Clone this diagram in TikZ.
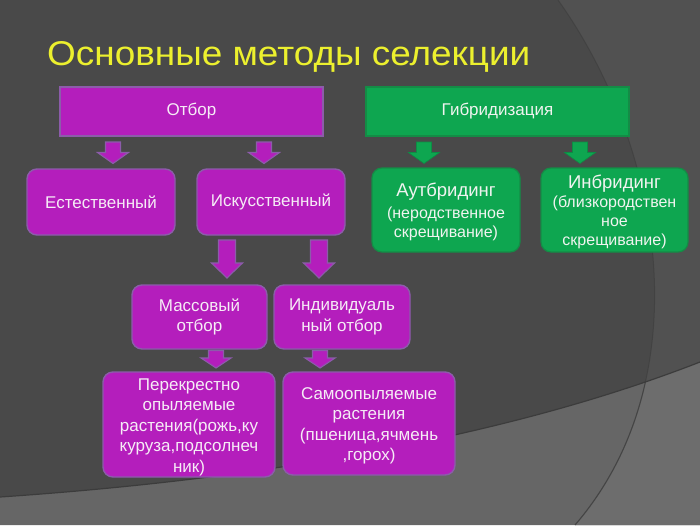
\documentclass[tikz,border=0pt]{standalone}
\usepackage{fontspec}
\setmainfont{Liberation Sans}
\usetikzlibrary{calc}
\definecolor{bgdark}{RGB}{73,73,73}
\definecolor{bgright}{RGB}{81,81,81}
\definecolor{bgband}{RGB}{102,102,102}
\definecolor{bgline}{RGB}{60,60,60}
\definecolor{titleyellow}{RGB}{236,240,46}
\definecolor{pfill}{RGB}{180,30,188}
\definecolor{pborder}{RGB}{140,92,170}
\definecolor{ptext}{RGB}{246,236,246}
\definecolor{gfill}{RGB}{14,166,80}
\definecolor{gborder}{RGB}{20,140,70}
\definecolor{gtext}{RGB}{240,244,240}
\newcommand\blockarrow[6]{% start, tip, half shaft, half head, head length, style
  \path[#6] let \p1=(#1), \p2=(#2) in
    (\x1-#3,\y1) -- (\x1+#3,\y1) -- (\x1+#3,\y2+#5) -- (\x1+#4,\y2+#5) -- (\x1,\y2)
    -- (\x1-#4,\y2+#5) -- (\x1-#3,\y2+#5) -- cycle;}
\begin{document}
\begin{tikzpicture}[x=1pt,y=-1pt,
  pbox/.style={draw=pborder, line width=1.4pt, fill=pfill, text=ptext, align=center,
    inner sep=0pt, font=\fontsize{17}{20.5}\selectfont},
  gbox/.style={draw=gborder, line width=1.2pt, fill=gfill, text=gtext, align=center,
    inner sep=0pt, font=\fontsize{16}{19}\selectfont},
  rbox/.style={rounded corners=10pt},
  parrow/.style={draw=pborder, line width=1.1pt, fill=pfill},
  garrow/.style={draw=gfill!85!black, line width=0.6pt, fill=gfill}]
\useasboundingbox (0,0) rectangle (700,525);
% background
\fill[bgdark] (0,0) rectangle (700,525);
\fill[bgright] (558,0) .. controls (665,150) and (700,380) .. (575,525) -- (700,525) -- (700,0) -- cycle;
\fill[bgband] (0,497) .. controls (250,480) and (500,440) .. (700,362) -- (700,525) -- (0,525) -- cycle;
\begin{scope}
\clip (0,497) .. controls (250,480) and (500,440) .. (700,362) -- (700,525) -- (0,525) -- cycle;
\fill[white, opacity=0.05] (558,0) .. controls (665,150) and (700,380) .. (575,525) -- (700,525) -- (700,0) -- cycle;
\draw[bgline, opacity=0.5, line width=1pt] (558,0) .. controls (665,150) and (700,380) .. (575,525);
\end{scope}
\draw[bgline, line width=1.2pt] (0,497) .. controls (250,480) and (500,440) .. (700,362);
\draw[bgline, opacity=0.6, line width=1pt] (558,0) .. controls (665,150) and (700,380) .. (575,525);
% title
\node[anchor=base west, inner sep=0pt, text=titleyellow] (title) at (47,65.5)
  {\resizebox{483pt}{24pt}{Основные методы селекции}};
% top boxes
\node[pbox, minimum width=263pt, minimum height=49pt] (otbor) at (191.5,111.5) {Отбор};
\node[gbox, minimum width=263pt, minimum height=49pt, font=\fontsize{17}{20.5}\selectfont] (gibr) at (497.5,111.5) {Гибридизация};
% second row
\node[pbox, rbox, minimum width=148pt, minimum height=66pt] (estest) at (101,202) {Естественный};
\node[pbox, rbox, minimum width=148pt, minimum height=66pt] (iskus) at (271,202) {Искусственный};
\node[gbox, rbox, minimum width=148pt, minimum height=84pt] (autb) at (446,210) {};
\node[gtext, align=center, inner sep=0pt, font=\fontsize{16}{19}\selectfont] (autbt) at (446,212)
  {{\fontsize{18.5}{20}\selectfont Аутбридинг}\\[3pt](неродственное\\скрещивание)};
\node[gbox, rbox, minimum width=147pt, minimum height=84pt] (inbr) at (614.5,210) {};
\node[gtext, align=center, inner sep=0pt, font=\fontsize{16}{19}\selectfont] (inbrt) at (614.5,212)
  {{\fontsize{18.5}{20}\selectfont Инбридинг}\\(близкородствен\\ное\\скрещивание)};
% third row
\node[pbox, rbox, minimum width=135pt, minimum height=64pt] (mass) at (199.5,317) {Массовый\\отбор};
\node[pbox, rbox, minimum width=136pt, minimum height=64pt] (indiv) at (342,317) {Индивидуаль\\ный отбор};
% fourth row
\node[pbox, rbox, minimum width=172pt, minimum height=105pt] (perek) at (189,424.5) {};
\node[ptext, align=center, inner sep=0pt, font=\fontsize{17}{20.5}\selectfont] (perekt) at (189,427)
  {Перекрестно\\опыляемые\\растения(рожь,ку\\куруза,подсолнеч\\ник)};
\node[pbox, rbox, minimum width=172pt, minimum height=103pt] (samo) at (369,423.5) {};
\node[ptext, align=center, inner sep=0pt, font=\fontsize{17}{20.5}\selectfont] (samot) at (369,426)
  {Самоопыляемые\\растения\\(пшеница,ячмень\\,горох)};
% arrow end points
\coordinate (a1s) at (113,142); \coordinate (a1e) at (113,163.5);
\coordinate (a2s) at (264,142); \coordinate (a2e) at (264,163.5);
\coordinate (a3s) at (424,142); \coordinate (a3e) at (424,163.5);
\coordinate (a4s) at (580,142); \coordinate (a4e) at (580,163.5);
\coordinate (a5s) at (227,240); \coordinate (a5e) at (227,278);
\coordinate (a6s) at (319,240); \coordinate (a6e) at (319,278);
\coordinate (a7s) at (216,350.5); \coordinate (a7e) at (216,368);
\coordinate (a8s) at (320,350.5); \coordinate (a8e) at (320,368);
% arrows
\blockarrow{a1s}{a1e}{7.5pt}{15.5pt}{11pt}{parrow}
\blockarrow{a2s}{a2e}{7.5pt}{15.5pt}{11pt}{parrow}
\blockarrow{a3s}{a3e}{7.5pt}{15.5pt}{11pt}{garrow}
\blockarrow{a4s}{a4e}{7.5pt}{15.5pt}{11pt}{garrow}
\blockarrow{a5s}{a5e}{8.5pt}{15.5pt}{15pt}{parrow}
\blockarrow{a6s}{a6e}{8.5pt}{15.5pt}{15pt}{parrow}
\blockarrow{a7s}{a7e}{7.5pt}{15pt}{10pt}{parrow}
\blockarrow{a8s}{a8e}{7.5pt}{15pt}{10pt}{parrow}
\end{tikzpicture}
\end{document}
